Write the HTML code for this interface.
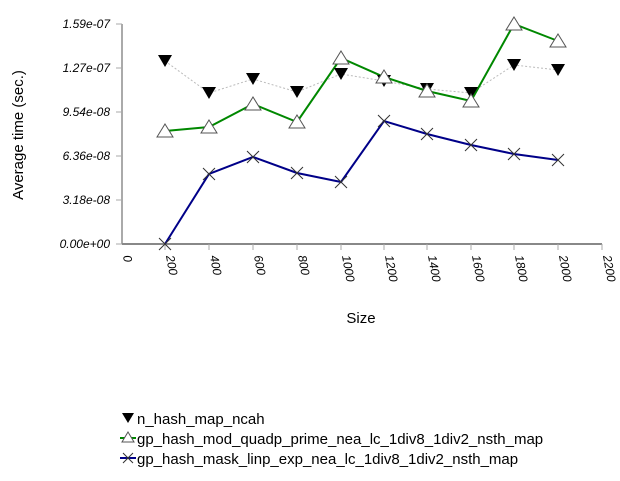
<!DOCTYPE html>
<html><head><style>body{margin:0;background:#fff}</style></head><body>
<svg width="620" height="476" xmlns="http://www.w3.org/2000/svg" font-family="Liberation Sans, sans-serif">
<defs>
<g id="dn"><polygon points="-7,-6 7,-6 0,6" fill="#000"/></g>
<g id="up"><polygon points="0,-7 8,6 -8,6" fill="#fff" stroke="#555" stroke-width="1"/></g>
<g id="x"><path d="M-6,-6L6,6M-6,6L6,-6" stroke="#333" stroke-width="1"/></g>
<g id="dns"><polygon points="-6,-5 6,-5 0,5" fill="#000"/></g>
<g id="ups"><polygon points="0,-5 6,5 -6,5" fill="#fff" stroke="#555" stroke-width="1"/></g>
<g id="xs"><path d="M-5,-5L5,5M-5,5L5,-5" stroke="#333" stroke-width="1"/></g>
</defs>
<g stroke="#aaa" stroke-width="2" fill="none">
<line x1="122" y1="24" x2="122" y2="244"/>
<line x1="122" y1="244" x2="602" y2="244" stroke="#888"/>
</g>
<g stroke="#aaa" stroke-width="1">
<line x1="116" y1="24" x2="122" y2="24"/><line x1="116" y1="68" x2="122" y2="68"/><line x1="116" y1="112" x2="122" y2="112"/><line x1="116" y1="156" x2="122" y2="156"/><line x1="116" y1="200" x2="122" y2="200"/><line x1="116" y1="244" x2="122" y2="244"/>
<line x1="165" y1="244" x2="165" y2="250"/><line x1="209" y1="244" x2="209" y2="250"/><line x1="253" y1="244" x2="253" y2="250"/><line x1="297" y1="244" x2="297" y2="250"/><line x1="341" y1="244" x2="341" y2="250"/><line x1="384" y1="244" x2="384" y2="250"/><line x1="427" y1="244" x2="427" y2="250"/><line x1="471" y1="244" x2="471" y2="250"/><line x1="514" y1="244" x2="514" y2="250"/><line x1="558" y1="244" x2="558" y2="250"/><line x1="602" y1="244" x2="602" y2="250"/>
</g>
<g font-size="12" font-style="italic" text-anchor="end" fill="#000">
<text x="110" y="28">1.59e-07</text><text x="110" y="72">1.27e-07</text><text x="110" y="116">9.54e-08</text><text x="110" y="160">6.36e-08</text><text x="110" y="204">3.18e-08</text><text x="110" y="248">0.00e+00</text>
</g>
<g font-size="12" font-style="italic" fill="#000">
<text transform="translate(123,256) rotate(80)">0</text>
<text transform="translate(166,256) rotate(80)">200</text>
<text transform="translate(210,256) rotate(80)">400</text>
<text transform="translate(254,256) rotate(80)">600</text>
<text transform="translate(298,256) rotate(80)">800</text>
<text transform="translate(342,256) rotate(80)">1000</text>
<text transform="translate(385,256) rotate(80)">1200</text>
<text transform="translate(428,256) rotate(80)">1400</text>
<text transform="translate(472,256) rotate(80)">1600</text>
<text transform="translate(515,256) rotate(80)">1800</text>
<text transform="translate(559,256) rotate(80)">2000</text>
<text transform="translate(603,256) rotate(80)">2200</text>
</g>
<text x="361" y="323" font-size="15" text-anchor="middle">Size</text>
<text transform="translate(23,135) rotate(-90)" font-size="15" text-anchor="middle">Average time (sec.)</text>
<polyline fill="none" stroke="#bbb" stroke-width="1" stroke-dasharray="2,2" points="165,61 209,93 253,79 297,92 341,74 384,81 427,89 471,93 514,65 558,70"/>
<polyline fill="none" stroke="#008800" stroke-width="2" points="165,131 209,127 253,104 297,122 341,58 384,77 427,91 471,101 514,24 558,41"/>
<polyline fill="none" stroke="#000088" stroke-width="2" points="165,244 209,174 253,157 297,173 341,182 384,121 427,134 471,145 514,154 558,160"/>
<g>
<use href="#dn" x="165" y="61"/><use href="#dn" x="209" y="93"/><use href="#dn" x="253" y="79"/><use href="#dn" x="297" y="92"/><use href="#dn" x="341" y="74"/><use href="#dn" x="384" y="81"/><use href="#dn" x="427" y="89"/><use href="#dn" x="471" y="93"/><use href="#dn" x="514" y="65"/><use href="#dn" x="558" y="70"/>
<use href="#up" x="165" y="131"/><use href="#up" x="209" y="127"/><use href="#up" x="253" y="104"/><use href="#up" x="297" y="122"/><use href="#up" x="341" y="58"/><use href="#up" x="384" y="77"/><use href="#up" x="427" y="91"/><use href="#up" x="471" y="101"/><use href="#up" x="514" y="24"/><use href="#up" x="558" y="41"/>
<use href="#x" x="165" y="244"/><use href="#x" x="209" y="174"/><use href="#x" x="253" y="157"/><use href="#x" x="297" y="173"/><use href="#x" x="341" y="182"/><use href="#x" x="384" y="121"/><use href="#x" x="427" y="134"/><use href="#x" x="471" y="145"/><use href="#x" x="514" y="154"/><use href="#x" x="558" y="160"/>
</g>
<line x1="120" y1="438" x2="136" y2="438" stroke="#008800" stroke-width="2"/>
<line x1="120" y1="458" x2="136" y2="458" stroke="#000088" stroke-width="2"/>
<use href="#dns" x="128" y="418"/><use href="#ups" x="128" y="437"/><use href="#xs" x="128" y="458"/>
<g font-size="15" fill="#000">
<text x="137" y="424">n_hash_map_ncah</text>
<text x="137" y="444">gp_hash_mod_quadp_prime_nea_lc_1div8_1div2_nsth_map</text>
<text x="137" y="464">gp_hash_mask_linp_exp_nea_lc_1div8_1div2_nsth_map</text>
</g>
</svg>
</body></html>
